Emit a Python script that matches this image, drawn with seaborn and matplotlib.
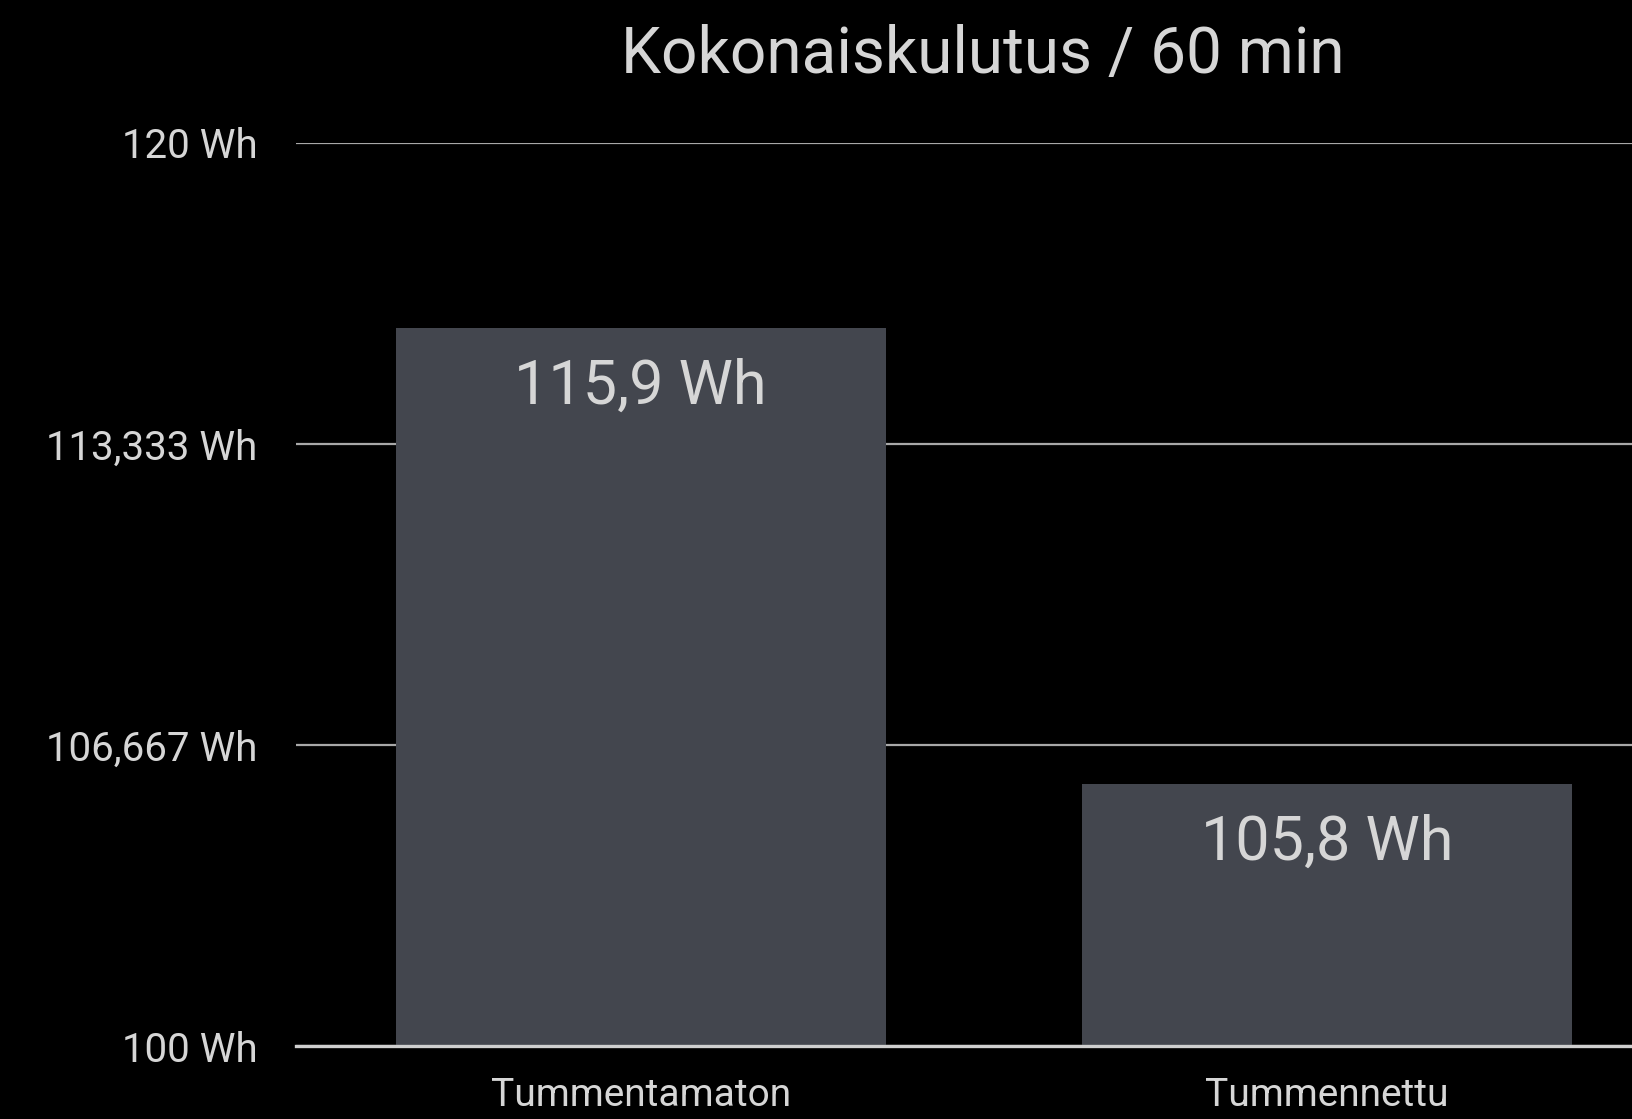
import numpy as np
import pandas as pd
import matplotlib
matplotlib.use("Agg")
import matplotlib.pyplot as plt
import seaborn as sns

# data
categories = ["Tummentamaton", "Tummennettu"]
values = [115.9, 105.8]
value_labels = ["115,9 Wh", "105,8 Wh"]
yticks = [100, 106.667, 113.333, 120]
ytick_labels = ["100 Wh", "106,667 Wh", "113,333 Wh", "120 Wh"]
title = "Kokonaiskulutus / 60 min"

bg = "#000000"
bar_col = "#43464e"
txt_col = "#d6d6d6"
wt = "normal"

sns.set_theme(style="dark")
plt.rcParams["font.family"] = ["Roboto", "DejaVu Sans"]

fig = plt.figure(figsize=(16.32, 11.19), dpi=100, facecolor=bg)
ax = fig.add_axes([0.1814, 0.0648, 0.8186, 0.8078])
ax.set_facecolor(bg)

df = pd.DataFrame({"kategoria": categories, "kulutus": values})
sns.barplot(data=df, x="kategoria", y="kulutus", color=bar_col, saturation=1,
            width=0.714, linewidth=0, edgecolor=bar_col, ax=ax, zorder=3)

ax.set_ylim(100, 120)
ax.set_xlim(-0.502, 1.444)
ax.set_yticks(yticks)
ax.set_yticklabels(ytick_labels)
ax.grid(axis="y", color="#a8a8a8", linewidth=1.6, zorder=0)
ax.grid(axis="x", visible=False)
ax.set_axisbelow(True)
for s in ["top", "right", "left"]:
    ax.spines[s].set_visible(False)
ax.spines["bottom"].set_color("#cfcfcf")
ax.spines["bottom"].set_linewidth(2.4)
ax.spines["bottom"].set_zorder(4)

ax.tick_params(axis="y", length=0, pad=28, labelsize=29, labelcolor=txt_col)
ax.tick_params(axis="x", length=0, pad=22, labelsize=28, labelcolor=txt_col)
for lab in ax.get_yticklabels() + ax.get_xticklabels():
    lab.set_fontweight(wt)
ax.set_xlabel("")
ax.set_ylabel("")

for i, (v, t) in enumerate(zip(values, value_labels)):
    ax.annotate(t, xy=(i, v), xytext=(0, -54.5), textcoords="offset points",
                ha="center", va="baseline", fontsize=44, color=txt_col,
                fontweight=wt, zorder=5)

fig.text(0.602, 0.935, title, ha="center", va="baseline", fontsize=46,
         color=txt_col, fontweight=wt)

fig.savefig("out.png", dpi=100, facecolor=bg)
